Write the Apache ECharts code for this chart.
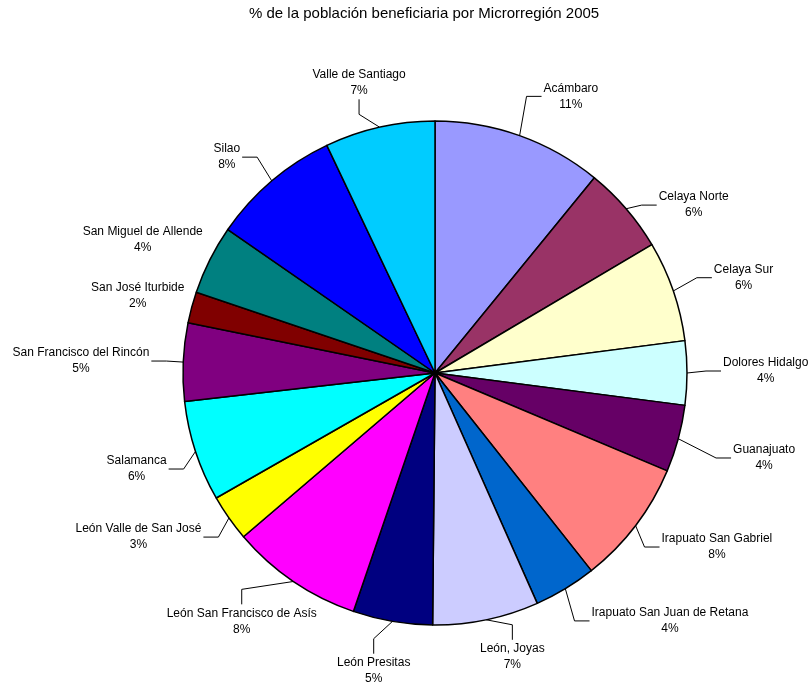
<!DOCTYPE html>
<html>
<head>
<meta charset="utf-8">
<script src="https://cdn.jsdelivr.net/npm/echarts@6/dist/echarts.min.js"></script>
<style>
	html, body { margin: 0; padding: 0; background: #fff; }
	#chart { width: 808px; height: 685px; }
</style>
</head>
<body>
<div id="chart"></div>
<script type="text/javascript">

	var chartTitle = '% de la población beneficiaria por Microrregión 2005';

	var regions = ['Acámbaro', 'Celaya Norte', 'Celaya Sur', 'Dolores Hidalgo', 'Guanajuato',
		'Irapuato San Gabriel', 'Irapuato San Juan de Retana', 'León, Joyas', 'León Presitas',
		'León San Francisco de Asís', 'León Valle de San José', 'Salamanca',
		'San Francisco del Rincón', 'San José Iturbide', 'San Miguel de Allende', 'Silao',
		'Valle de Santiago'];

	// porcentaje de beneficiarios
	var shares = [10.9, 5.6, 6.45, 4.1, 4.3, 8.0, 4.0, 6.8, 5.1, 8.49, 3.0, 6.45, 5.0, 2.0, 4.45, 8.3, 7.06];

	var sliceColors = ['#9999FF', '#993366', '#FFFFCC', '#CCFFFF', '#660066', '#FF8080', '#0066CC',
		'#CCCCFF', '#000080', '#FF00FF', '#FFFF00', '#00FFFF', '#800080', '#800000', '#008080',
		'#0000FF', '#00CCFF'];

	var pieCenter = [435, 373];
	var pieRadius = 252;
	var labelGap = 33;

	// ajuste manual de etiquetas (como fueron movidas en el original)
	var labelNudge = {
		'Acámbaro': [31, 5],
		'Celaya Norte': [16, 27],
		'Celaya Sur': [11, 2],
		'Dolores Hidalgo': [3, -2],
		'Guanajuato': [24, 7],
		'Irapuato San Gabriel': [11, -7],
		'Irapuato San Juan de Retana': [47, -8],
		'León, Joyas': [13, -9],
		'León Presitas': [-7, 3],
		'León San Francisco de Asís': [9, 1],
		'León Valle de San José': [-12, -8],
		'Salamanca': [1, 3],
		'San Francisco del Rincón': [-1, 1],
		'San José Iturbide': [23, 0],
		'San Miguel de Allende': [16, 1],
		'Silao': [-15, 12],
		'Valle de Santiago': [-3, 1]
	};

	var pieData = [];
	for (var i = 0; i < regions.length; i++) {
		pieData.push({ name: regions[i], value: shares[i], itemStyle: { color: sliceColors[i] } });
	}

	// etiquetas fuera del pastel, al estilo de Excel: bloque centrado con línea guía
	function placeLabel(params) {
		var p0 = params.labelLinePoints[0];
		var vx = p0[0] - pieCenter[0], vy = p0[1] - pieCenter[1];
		var len = Math.sqrt(vx * vx + vy * vy);
		var dx = vx / len, dy = vy / len;
		var w = params.labelRect.width, h = params.labelRect.height;
		var nudge = labelNudge[regions[params.dataIndex]] || [0, 0];
		var cx = pieCenter[0] + (pieRadius + labelGap) * dx + w / 2 * dx + nudge[0];
		var cy = pieCenter[1] + (pieRadius + labelGap) * dy + h / 2 * dy + nudge[1];
		var pts, ax, ay;
		if (Math.abs(p0[0] - cx) < w / 2) {
			var sy = p0[1] > cy ? 1 : -1;
			ax = cx;
			ay = cy + sy * (h / 2 + 3);
			pts = [[p0[0], p0[1]], [cx, ay + sy * 15], [ax, ay]];
		} else {
			var sx = p0[0] > cx ? 1 : -1;
			ax = cx + sx * (w / 2 + 2);
			ay = cy;
			pts = [[p0[0], p0[1]], [ax + sx * 15, cy], [ax, ay]];
		}
		var dist = Math.sqrt((ax - p0[0]) * (ax - p0[0]) + (ay - p0[1]) * (ay - p0[1]));
		if (dist < 22) {
			pts = [[p0[0], p0[1]], [p0[0], p0[1]]];
		}
		return {
			x: cx,
			y: cy,
			align: 'center',
			verticalAlign: 'middle',
			labelLinePoints: pts
		};
	}

	var chart = echarts.init(document.getElementById('chart'));
	chart.setOption({
		animation: false,
		title: {
			text: chartTitle,
			left: 244,
			top: 1,
			textStyle: { fontFamily: 'Liberation Sans', fontSize: 15, fontWeight: 'normal', color: '#000' }
		},
		series: [
			{
				type: 'pie',
				center: pieCenter,
				radius: pieRadius,
				startAngle: 90,
				clockwise: true,
				avoidLabelOverlap: false,
				data: pieData,
				itemStyle: { borderColor: '#000', borderWidth: 1.5 },
				label: {
					show: true,
					position: 'outside',
					alignTo: 'none',
					fontFamily: 'Liberation Sans',
					fontSize: 12,
					color: '#000',
					formatter: function (p) {
						return '{n|' + p.name + '}\n{p|' + Math.round(p.percent) + '%}';
					},
					rich: {
						n: { align: 'center', lineHeight: 16, fontFamily: 'Liberation Sans', fontSize: 12, color: '#000' },
						p: { align: 'center', lineHeight: 16, fontFamily: 'Liberation Sans', fontSize: 12, color: '#000' }
					}
				},
				labelLine: {
					show: true,
					length: 18,
					length2: 14,
					lineStyle: { color: '#000', width: 1 }
				},
				labelLayout: placeLabel,
				emphasis: { disabled: true }
			}
		]
	});

</script>
</body>
</html>
